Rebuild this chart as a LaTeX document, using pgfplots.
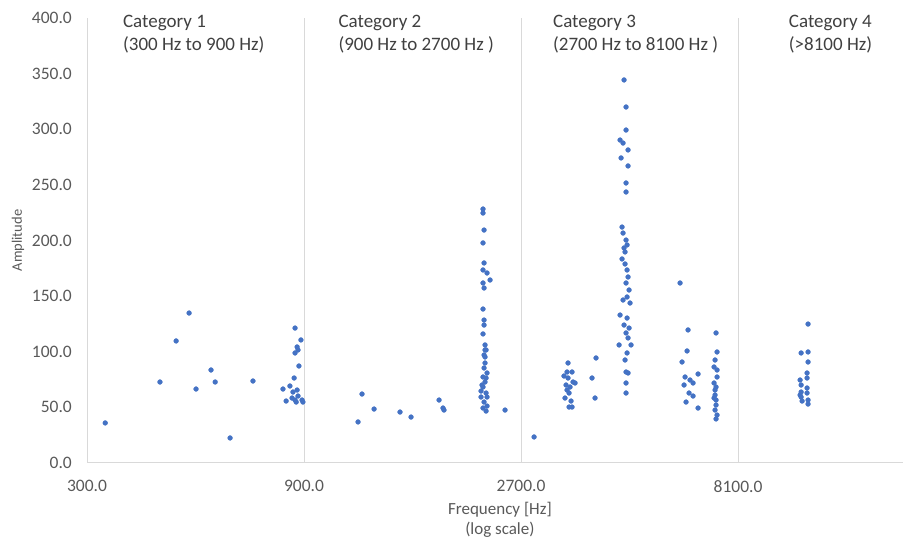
\documentclass[border=0pt]{standalone}
\usepackage{fontspec}
\setmainfont{Carlito}
\usepackage{pgfplots}
\pgfplotsset{compat=1.18}
\definecolor{dotblue}{HTML}{4472C4}
\definecolor{gridgray}{HTML}{D9D9D9}
\definecolor{ticktext}{HTML}{595959}
\definecolor{cattext}{HTML}{404040}

\begin{document}
\begin{tikzpicture}
% fixed canvas: 87pt left, 80pt below, 18pt above the axis box
\path[use as bounding box] (-87pt,-80pt) rectangle (816pt,463pt);
\begin{axis}[
  name=ax,
  scale only axis,
  width=816pt, height=445pt,
  xmode=log,
  xmin=300, xmax=18670,
  ymin=0, ymax=400,
  axis x line*=bottom, axis y line*=left,
  axis line style={gridgray, line width=1pt, -},
  xtick={300,900,2700,8100},
  xticklabels={300.0,900.0,2700.0,8100.0},
  ytick={0,50,100,150,200,250,300,350,400},
  yticklabels={0.0,50.0,100.0,150.0,200.0,250.0,300.0,350.0,400.0},
  major tick length=0pt,
  xmajorgrids,
  major x grid style={gridgray, line width=1pt},
  tick label style={font=\fontsize{17.5}{20}\selectfont, text=ticktext, inner sep=0pt},
  xticklabel style={yshift=-17pt},
  yticklabel style={xshift=-15pt},
  /pgf/number format/assume math mode=true,
  clip=false,
]
\addplot[only marks, mark=*, mark size=2.4pt, dotblue] coordinates {
  % category 1
  (329,36.0) (434,72.8) (471,109.7) (503,134.8) (521,66.5) (562,83.6) (574,72.8) (619,22.5) (695,73.7)
  (860,121.3) (886,110.6) (869,104.3) (873,101.6) (860,98.9) (877,87.2) (856,76.4) (809,66.5) (838,69.2)
  (851,63.8) (869,65.6) (822,55.7) (847,58.4) (860,56.6) (891,56.6) (873,60.2) (895,54.8) (865,54.8)
  % category 2
  (1183,36.9) (1207,62.0) (1283,48.5) (1463,45.8) (1547,41.3) (1783,56.6) (1819,49.4) (1828,47.6)
  (2227,228.3) (2227,224.7) (2239,209.4) (2227,197.8) (2239,179.8) (2227,173.5) (2273,170.8) (2308,164.5)
  (2227,161.8) (2239,157.3) (2227,138.4) (2239,128.5) (2239,124.0) (2227,116.0) (2250,106.1) (2262,101.6)
  (2250,95.3) (2250,89.9) (2239,85.4) (2273,80.9) (2227,77.3) (2250,72.8) (2227,68.3) (2205,64.7)
  (2262,62.9) (2205,59.3) (2273,59.3) (2239,54.8) (2273,51.2) (2227,49.4) (2262,46.7) (2490,47.6)
  (2250,101.6) (2239,97.1) (2262,76.4) (2216,70.1)
  % category 3
  (2884,23.4)
  (3425,89.9) (3947,94.4) (3408,81.8) (3495,81.8) (3356,78.2) (3425,76.4) (3513,72.8) (3391,70.1)
  (3460,68.3) (3549,71.9) (3408,65.6) (3443,62.9) (3373,58.4) (3478,55.7) (3443,50.3) (3495,50.3)
  (3868,76.4) (3927,58.4)
  (4548,344.3) (4594,320.0) (4594,299.3) (4457,290.3) (4525,287.6) (4641,281.4) (4480,274.2) (4641,267.0)
  (4594,251.7) (4594,243.6) (4502,212.1) (4525,206.7) (4594,200.4) (4618,196.0) (4571,189.7) (4502,183.4)
  (4618,173.5) (4641,167.2) (4594,161.8) (4665,155.5) (4618,149.2) (4688,143.8) (4457,133.0) (4618,130.3)
  (4548,124.0) (4665,121.3) (4594,116.9) (4641,112.4) (4712,106.1) (4435,106.1) (4618,98.9) (4594,81.8)
  (4641,80.9) (4594,71.9) (4594,62.9) (4548,193.3) (4571,178.9) (4525,146.5) (4571,92.6)
  (6039,161.8) (6288,119.6) (7246,116.9) (6257,100.7) (7283,99.8) (6100,90.8) (7173,86.3) (6615,80.0)
  (7283,83.6) (6194,77.3) (6352,74.6) (6450,71.9) (7283,77.3) (6162,70.1) (7173,71.9) (6320,62.9)
  (6450,60.2) (7210,65.6) (7210,61.1) (6225,54.8) (7246,56.6) (6615,49.4) (7246,52.1) (7210,47.6)
  (7283,43.1) (7246,39.6) (7210,92.6) (7246,68.3) (7173,58.4)
  % category 4
  (11544,124.9) (11145,98.9) (11544,99.8) (11544,90.8) (11486,80.9) (11088,74.6) (11486,76.4) (11145,70.1)
  (11486,67.4) (11145,63.8) (11088,61.1) (11486,62.9) (11145,59.3) (11544,56.6) (11201,55.7) (11544,53.0)
};
% category headings
\tikzset{cat/.style={anchor=north west, align=left, inner sep=0pt, text=cattext,
  font=\fontsize{19}{23}\selectfont}}
\node[cat] at ([yshift=3pt]rel axis cs:0.044,1) {Category 1\\(300 Hz to 900 Hz)};
\node[cat] at ([yshift=3pt]rel axis cs:0.308,1) {Category 2\\(900 Hz to 2700 Hz )};
\node[cat] at ([yshift=3pt]rel axis cs:0.571,1) {Category 3\\(2700 Hz to 8100 Hz )};
\node[cat] at ([yshift=3pt]rel axis cs:0.860,1) {Category 4\\(>8100 Hz)};
% axis titles
\node[rotate=90, text=ticktext, font=\fontsize{14.5}{16}\selectfont]
  at ([xshift=-69pt]rel axis cs:0,0.5) {Amplitude};
\node[anchor=north, align=center, text=ticktext, font=\fontsize{17}{20}\selectfont]
  at ([yshift=-36pt]rel axis cs:0.506,0) {Frequency [Hz]\\(log scale)};
\end{axis}
\end{tikzpicture}
\end{document}
